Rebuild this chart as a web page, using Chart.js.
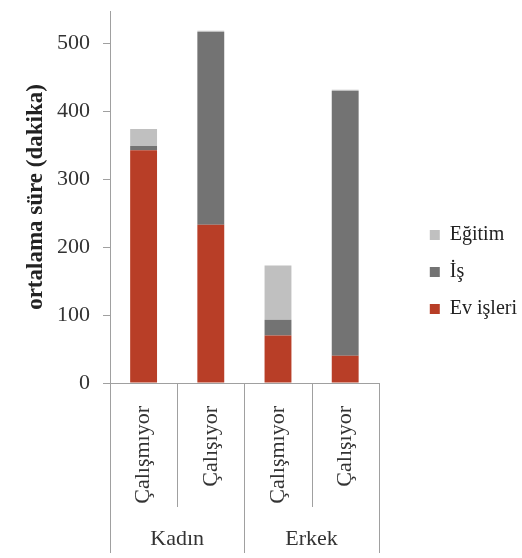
<!DOCTYPE html>
<html>
<head>
<meta charset="utf-8">
<script src="https://cdn.jsdelivr.net/npm/chart.js@4/dist/chart.umd.min.js"></script>
<style>
  html, body { margin: 0; padding: 0; background: #fff; }
  #wrap { width: 522px; height: 558px; }
</style>
</head>
<body>
<div id="wrap"><canvas id="chart"></canvas></div>
<script>
// categories (two levels)
const groups = ['Kadın', 'Erkek']
const labels = ['Çalışmıyor', 'Çalışıyor', 'Çalışmıyor', 'Çalışıyor']

// minutes
const evIsleri = [343, 233, 70, 40]
const isValues = [6, 284, 23, 390]
const egitim = [25, 2, 80, 2]

const yTicks = [0, 100, 200, 300, 400, 500]

const serif = 'Liberation Serif'
const axisGray = '#a0a0a0'

// draws the divider lines under the axis and the group names
const groupAxis = {
    id: 'groupAxis',
    afterDraw(chart) {
        const ctx = chart.ctx
        const x = chart.scales.x
        const base = chart.chartArea.bottom
        const half = (x.getPixelForValue(1) - x.getPixelForValue(0)) / 2
        ctx.save()
        ctx.strokeStyle = axisGray
        ctx.lineWidth = 1
        for (var i = 0; i <= labels.length; i++) {
            var px = i < labels.length ? x.getPixelForValue(i) - half : x.getPixelForValue(i - 1) + half
            px = Math.round(px) + 0.5
            var outer = i % 2 == 0
            ctx.beginPath()
            ctx.moveTo(px, base)
            ctx.lineTo(px, outer ? base + 170 : base + 124)
            ctx.stroke()
        }
        ctx.fillStyle = '#333'
        ctx.font = '22px "' + serif + '"'
        ctx.textAlign = 'center'
        ctx.textBaseline = 'middle'
        for (var g = 0; g < groups.length; g++) {
            var cx = (x.getPixelForValue(g * 2) + x.getPixelForValue(g * 2 + 1)) / 2
            ctx.fillText(groups[g], cx, base + 156)
        }
        ctx.restore()
    }
}

new Chart(document.getElementById('chart'), {
    type: 'bar',
    data: {
        labels: labels,
        datasets: [
            { label: 'Ev işleri', data: evIsleri, backgroundColor: '#b83e27' },
            { label: 'İş', data: isValues, backgroundColor: '#737373' },
            { label: 'Eğitim', data: egitim, backgroundColor: '#c0c0c0' }
        ]
    },
    options: {
        responsive: true,
        maintainAspectRatio: false,
        animation: false,
        datasets: { bar: { categoryPercentage: 1, barPercentage: 0.4 } },
        layout: { padding: { top: 11, left: 0, right: -5, bottom: 25 } },
        plugins: {
            tooltip: { enabled: false },
            legend: {
                position: 'right',
                reverse: true,
                maxWidth: 200,
                labels: {
                    boxWidth: 10,
                    boxHeight: 10,
                    padding: 17,
                    color: '#222',
                    font: { family: serif, size: 20 }
                }
            }
        },
        scales: {
            x: {
                stacked: true,
                grid: { display: false },
                border: { display: true, color: axisGray },
                ticks: {
                    minRotation: 90,
                    maxRotation: 90,
                    padding: 15,
                    color: '#333',
                    font: { family: serif, size: 22 }
                },
                afterFit(s) { s.height = 150 }
            },
            y: {
                stacked: true,
                min: 0,
                max: 548,
                afterBuildTicks(s) {
                    s.ticks = yTicks.map(v => ({ value: v }))
                },
                grid: { drawOnChartArea: false, drawTicks: true, tickLength: 7, color: axisGray },
                border: { color: axisGray },
                ticks: {
                    padding: 13,
                    color: '#333',
                    font: { family: serif, size: 22 }
                },
                title: {
                    display: true,
                    text: 'ortalama süre (dakika)',
                    color: '#222',
                    padding: { top: 22, bottom: 0 },
                    font: { family: serif, size: 23, weight: 'bold' }
                },
                afterFit(s) {
                    s.width = 110
                    s.paddingTop = 0
                    s.paddingBottom = 0
                }
            },
            yR: {
                type: 'linear',
                position: 'right',
                grid: { display: false },
                border: { display: false },
                ticks: { display: false },
                afterFit(s) {
                    s.width = 34
                    s.paddingTop = 0
                    s.paddingBottom = 0
                }
            }
        }
    },
    plugins: [groupAxis]
})
</script>
</body>
</html>
